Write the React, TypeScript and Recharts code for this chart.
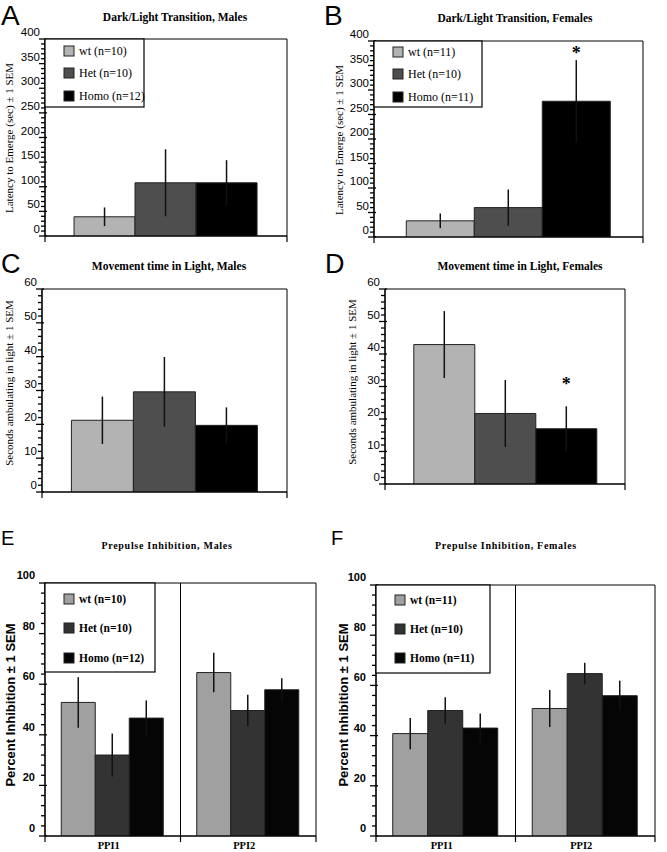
import React from 'react'
import { BarChart, Bar, XAxis, YAxis, ErrorBar, ReferenceArea } from 'recharts'

// genotype groups, same order in every panel
const groups = ['wt', 'Het', 'Homo']

// A / B: latency to emerge (sec), mean and SEM
const latencyMaleMean = [39, 108, 108]
const latencyMaleSem = [19, 68, 46]
const latencyMaleN = [10, 10, 12]
const latencyFemaleMean = [33, 60, 277]
const latencyFemaleSem = [15, 37, 84]
const latencyFemaleN = [11, 10, 11]

// C / D: seconds ambulating in light
const moveMaleMean = [21.2, 29.6, 19.7]
const moveMaleSem = [7, 10.3, 5.3]
const moveFemaleMean = [42.9, 21.7, 17]
const moveFemaleSem = [10.3, 10.3, 6.9]

// E / F: prepulse inhibition (%)
const ppiCats = ['PPI1', 'PPI2']
const ppiMaleWt = [52.8, 64.6]
const ppiMaleHet = [32, 49.6]
const ppiMaleHomo = [46.6, 57.8]
const ppiMaleWtSem = [10, 7.8]
const ppiMaleHetSem = [8.5, 6.2]
const ppiMaleHomoSem = [7, 4.6]
const ppiFemaleWt = [40.8, 50.8]
const ppiFemaleHet = [50, 64.7]
const ppiFemaleHomo = [43, 55.9]
const ppiFemaleWtSem = [6.2, 7.4]
const ppiFemaleHetSem = [5.3, 4.3]
const ppiFemaleHomoSem = [5.8, 6]

const ppiMaleN = [10, 10, 12]
const ppiFemaleN = [11, 10, 11]

// axis tick labels
const latencyTicks = [0, 50, 100, 150, 200, 250, 300, 350, 400]
const moveTicks = [0, 10, 20, 30, 40, 50, 60]
const ppiTicks = [0, 20, 40, 60, 80, 100]

const SERIF = '"Liberation Serif", "Times New Roman", serif'
const SANS = '"Liberation Sans", Arial, sans-serif'

const topColors = ['#b3b3b3', '#4e4e4e', '#000000']
const ppiColors = ['#a0a0a0', '#333333', '#050505']

function singleRow(means: number[], sems: number[]) {
  return [
    {
      name: 'all',
      wt: means[0],
      het: means[1],
      homo: means[2],
      wtErr: sems[0],
      hetErr: sems[1],
      homoErr: sems[2],
    },
  ]
}

function ppiRows(wt: number[], het: number[], homo: number[], wtS: number[], hetS: number[], homoS: number[]) {
  return ppiCats.map((c, i) => ({
    name: c,
    wt: wt[i],
    het: het[i],
    homo: homo[i],
    wtErr: wtS[i],
    hetErr: hetS[i],
    homoErr: homoS[i],
  }))
}

// small unlabelled ticks between the labelled ones
function minorTicks(max: number, step: number) {
  const out: number[] = []
  for (let v = 0; v <= max + 1e-9; v += step) out.push(Math.round(v * 100) / 100)
  return out
}

function makeYTick(majors: number[], ppi: boolean) {
  return (props: any) => {
    const { x, y, payload } = props
    const major = majors.includes(payload.value)
    return (
      <g>
        <line
          x1={x - (major ? 6 : 4)}
          x2={x + (major ? 2 : 0)}
          y1={y}
          y2={y}
          stroke="#000"
          strokeWidth={1.3}
        />
        {major && (
          <text
            x={x - (ppi ? 10 : 5)}
            y={y - (ppi ? 8 : 7)}
            textAnchor="end"
            dominantBaseline="central"
            fontFamily={SANS}
            fontWeight={ppi ? 700 : 400}
            fontSize={ppi ? 11 : 11.5}
            fill="#000"
          >
            {payload.value}
          </text>
        )}
      </g>
    )
  }
}

function makeXTick(plotWidth: number, nCats: number, showLabel: boolean) {
  const half = plotWidth / nCats / 2
  return (props: any) => {
    const { x, y, payload, index } = props
    return (
      <g>
        <line x1={x - half} x2={x - half} y1={y} y2={y + 6} stroke="#000" strokeWidth={1.2} />
        {index === nCats - 1 && <line x1={x + half} x2={x + half} y1={y} y2={y + 6} stroke="#000" strokeWidth={1.2} />}
        {showLabel && (
          <text x={x - 4} y={y + 13} textAnchor="middle" fontFamily={SERIF} fontWeight={700} fontSize={10.5} fill="#000">
            {payload.value}
          </text>
        )}
      </g>
    )
  }
}

interface PanelProps {
  left: number
  top: number
  width: number
  height: number
  margin: { top: number; right: number; bottom: number; left: number }
  rows: any[]
  yMax: number
  majors: number[]
  minorStep: number
  colors: string[]
  ppi?: boolean
  starGap?: number
}

function Panel({ left, top, width, height, margin, rows, yMax, majors, minorStep, colors, ppi, starGap }: PanelProps) {
  const yAxisW = 40
  const plotW = width - margin.left - margin.right - yAxisW
  const xH = ppi ? 16 : 10
  const keys = ['wt', 'het', 'homo']

  const star = (p: any) => {
    const { x, y, width: w, height: h, value } = p
    if (!value) return null
    const perUnit = h / value
    const errTop = y - rows[0].homoErr * perUnit
    return (
      <text x={x + w / 2} y={errTop - (starGap ?? 0)} textAnchor="middle" fontFamily={SERIF} fontWeight={700} fontSize={18} fill="#000">
        *
      </text>
    )
  }

  return (
    <div style={{ position: 'absolute', left, top }}>
      <BarChart width={width} height={height} data={rows} margin={margin} barCategoryGap="12%" barGap={0}>
        <XAxis
          dataKey="name"
          height={xH}
          axisLine={{ stroke: '#000', strokeWidth: 1.2 }}
          tickLine={false}
          tickSize={0}
          tickMargin={0}
          interval={0}
          tick={makeXTick(plotW, rows.length, !!ppi)}
        />
        <YAxis
          width={yAxisW}
          domain={[0, yMax]}
          ticks={minorTicks(yMax, minorStep)}
          interval={0}
          allowDataOverflow
          axisLine={{ stroke: '#000', strokeWidth: 1.2 }}
          tickLine={false}
          tickSize={0}
          tickMargin={0}
          tick={makeYTick(majors, !!ppi)}
        />
        {rows.map((r) => (
          <ReferenceArea
            key={r.name}
            x1={r.name}
            x2={r.name}
            y1={0}
            y2={yMax}
            fill="none"
            stroke="#000"
            strokeWidth={1}
            ifOverflow="visible"
          />
        ))}
        {keys.map((k, i) => (
          <Bar
            key={k}
            dataKey={k}
            fill={colors[i]}
            stroke="#222"
            strokeWidth={1}
            isAnimationActive={false}
            label={k === 'homo' && starGap !== undefined ? star : undefined}
          >
            <ErrorBar dataKey={k + 'Err'} width={0} stroke="#111" strokeWidth={1.5} direction="y" isAnimationActive={false} />
          </Bar>
        ))}
      </BarChart>
    </div>
  )
}

function LegendBox({ x, y, w, h, rowsY, n, colors, bold }: { x: number; y: number; w: number; h: number; rowsY: number[]; n: number[]; colors: string[]; bold?: boolean }) {
  return (
    <g>
      <rect x={x} y={y} width={w} height={h} fill="#fff" stroke="#000" strokeWidth={1.2} />
      {groups.map((g, i) => (
        <g key={g}>
          <rect x={x + 19} y={rowsY[i] - 5} width={10} height={10} fill={colors[i]} stroke="#222" strokeWidth={1} />
          <text
            x={x + 34}
            y={rowsY[i]}
            dominantBaseline="central"
            fontFamily={SERIF}
            fontWeight={bold ? 700 : 400}
            fontSize={bold ? 11.5 : 12}
            fill="#000"
          >
            {`${g} (n=${n[i]})`}
          </text>
        </g>
      ))}
    </g>
  )
}

function VLabel({ cx, cy, text, ppi }: { cx: number; cy: number; text: string; ppi?: boolean }) {
  return (
    <text
      transform={`translate(${cx},${cy}) rotate(-90)`}
      textAnchor="middle"
      dominantBaseline="central"
      fontFamily={ppi ? SANS : SERIF}
      fontWeight={ppi ? 700 : 400}
      fontSize={ppi ? 13 : 11}
      fill="#000"
    >
      {text}
    </text>
  )
}

function Title({ cx, y, text, ppi }: { cx: number; y: number; text: string; ppi?: boolean }) {
  return (
    <text
      x={cx}
      y={y}
      textAnchor="middle"
      fontFamily={SERIF}
      fontWeight={700}
      fontSize={ppi ? 10 : 11.5}
      letterSpacing={ppi ? 0.7 : 0}
      fill="#000"
    >
      {text}
    </text>
  )
}

function Letter({ x, y, text, size }: { x: number; y: number; text: string; size: number }) {
  return (
    <text x={x} y={y} fontFamily={SANS} fontSize={size} fill="#000">
      {text}
    </text>
  )
}

export default function App() {
  return (
    <div style={{ position: 'absolute', left: 0, top: 0, width: 667, height: 852, background: '#fff', overflow: 'hidden' }}>
      <Panel
        left={0}
        top={0}
        width={333}
        height={250}
        margin={{ top: 39, right: 46, bottom: 4, left: 5 }}
        rows={singleRow(latencyMaleMean, latencyMaleSem)}
        yMax={400}
        majors={latencyTicks}
        minorStep={10}
        colors={topColors}
      />
      <Panel
        left={333}
        top={0}
        width={334}
        height={250}
        margin={{ top: 41, right: 24, bottom: 3, left: 1 }}
        rows={singleRow(latencyFemaleMean, latencyFemaleSem)}
        yMax={400}
        majors={latencyTicks}
        minorStep={10}
        colors={topColors}
        starGap={1}
      />
      <Panel
        left={0}
        top={250}
        width={333}
        height={260}
        margin={{ top: 39, right: 46, bottom: 8, left: 2 }}
        rows={singleRow(moveMaleMean, moveMaleSem)}
        yMax={60}
        majors={moveTicks}
        minorStep={2}
        colors={topColors}
      />
      <Panel
        left={333}
        top={250}
        width={334}
        height={260}
        margin={{ top: 39, right: 42, bottom: 16, left: 12 }}
        rows={singleRow(moveFemaleMean, moveFemaleSem)}
        yMax={60}
        majors={moveTicks}
        minorStep={2}
        colors={topColors}
        starGap={16}
      />
      <Panel
        left={0}
        top={510}
        width={333}
        height={342}
        margin={{ top: 73, right: 17, bottom: 0, left: 5 }}
        rows={ppiRows(ppiMaleWt, ppiMaleHet, ppiMaleHomo, ppiMaleWtSem, ppiMaleHetSem, ppiMaleHomoSem)}
        yMax={100}
        majors={ppiTicks}
        minorStep={4}
        colors={ppiColors}
        ppi
      />
      <Panel
        left={333}
        top={510}
        width={334}
        height={342}
        margin={{ top: 75, right: 12, bottom: 0, left: 3 }}
        rows={ppiRows(ppiFemaleWt, ppiFemaleHet, ppiFemaleHomo, ppiFemaleWtSem, ppiFemaleHetSem, ppiFemaleHomoSem)}
        yMax={100}
        majors={ppiTicks}
        minorStep={4}
        colors={ppiColors}
        ppi
      />
      <svg width={667} height={852} style={{ position: 'absolute', left: 0, top: 0, pointerEvents: 'none' }}>
        <Letter x={1} y={25} text="A" size={28} />
        <Letter x={324} y={25} text="B" size={28} />
        <Letter x={1} y={273} text="C" size={27} />
        <Letter x={325} y={273} text="D" size={27} />
        <Letter x={1} y={545} text="E" size={20} />
        <Letter x={331} y={545} text="F" size={20} />

        <Title cx={175} y={21} text="Dark/Light Transition, Males" />
        <Title cx={515} y={22} text="Dark/Light Transition, Females" />
        <Title cx={169} y={270} text="Movement time in Light, Males" />
        <Title cx={520} y={270} text="Movement time in Light, Females" />
        <Title cx={167} y={549} text="Prepulse Inhibition, Males" ppi />
        <Title cx={506} y={549} text="Prepulse Inhibition, Females" ppi />

        <VLabel cx={9} cy={138} text="Latency to Emerge (sec) ± 1 SEM" />
        <VLabel cx={339} cy={140} text="Latency to Emerge (sec) ± 1 SEM" />
        <VLabel cx={9} cy={383} text="Seconds ambulating in light ± 1 SEM" />
        <VLabel cx={352} cy={382} text="Seconds ambulating in light ± 1 SEM" />
        <VLabel cx={10} cy={705} text="Percent Inhibition ± 1 SEM" ppi />
        <VLabel cx={343} cy={705} text="Percent Inhibition ± 1 SEM" ppi />

        <LegendBox x={45} y={39} w={99} h={68} rowsY={[51, 73, 96]} n={latencyMaleN} colors={topColors} />
        <LegendBox x={374} y={41} w={108} h={66} rowsY={[52, 74, 97]} n={latencyFemaleN} colors={topColors} />
        <LegendBox x={45} y={583} w={110} h={89} rowsY={[599, 628, 658]} n={ppiMaleN} colors={ppiColors} bold />
        <LegendBox x={376} y={585} w={114} h={88} rowsY={[600, 629, 658]} n={ppiFemaleN} colors={ppiColors} bold />
      </svg>
    </div>
  )
}
